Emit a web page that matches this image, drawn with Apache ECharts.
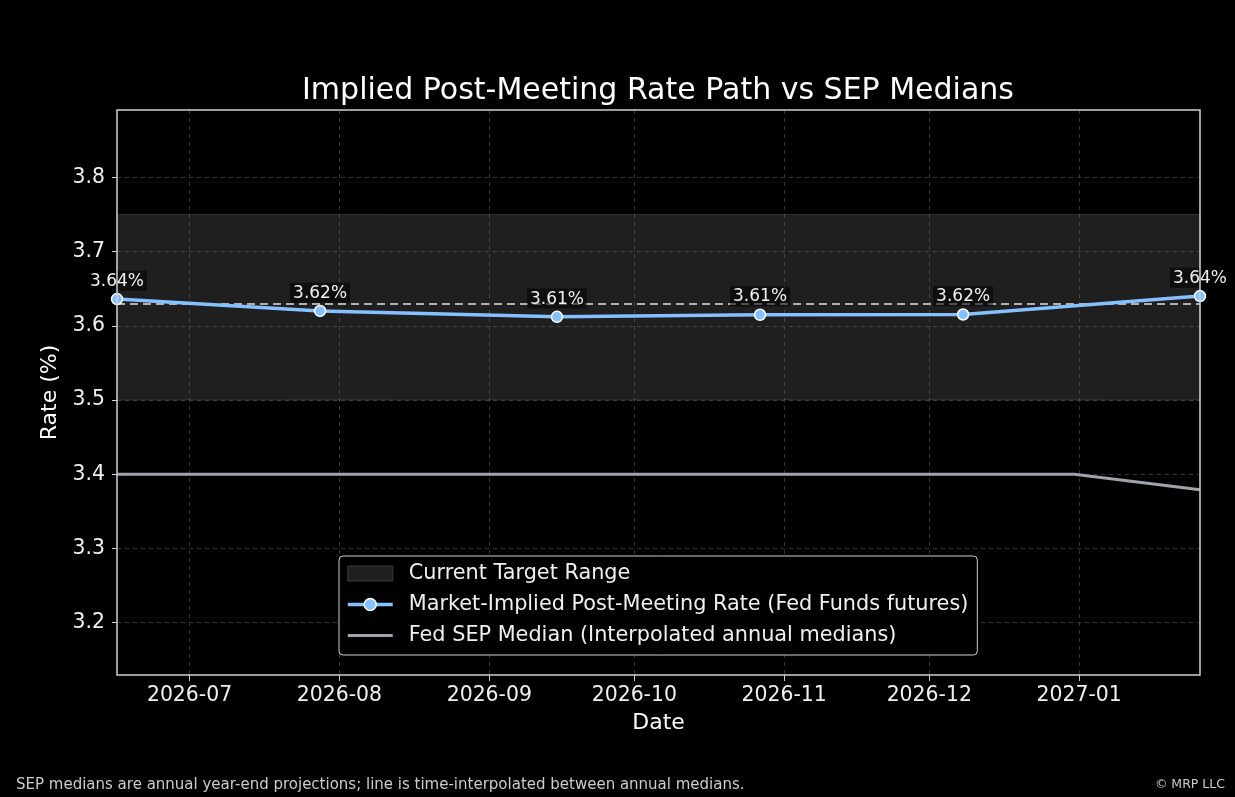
<!DOCTYPE html>
<html>
<head>
<meta charset="utf-8">
<script src="https://cdn.jsdelivr.net/npm/echarts@6/dist/echarts.min.js"></script>
<style>
html,body{margin:0;padding:0;background:#000;}
#c{width:1235px;height:797px;}
</style>
</head>
<body>
<div id="c"></div>
<script>
// ---- data ----
const meetingDates = ['2026-06-16','2026-07-28','2026-09-15','2026-10-27','2026-12-08','2027-01-26'];
const impliedRates = [3.636, 3.620, 3.612, 3.6148, 3.6152, 3.640];
const sepDates = ['2026-06-16','2026-12-31','2027-01-26'];
const sepValues = [3.40, 3.40, 3.379];
const targetRange = [3.50, 3.75];
const targetMid = 3.625;
const yTicks = [3.2, 3.3, 3.4, 3.5, 3.6, 3.7, 3.8];
const seriesNames = ['Current Target Range','Market-Implied Post-Meeting Rate (Fed Funds futures)','Fed SEP Median (Interpolated annual medians)'];
const titleText = 'Implied Post-Meeting Rate Path vs SEP Medians';
const footLeft = 'SEP medians are annual year-end projections; line is time-interpolated between annual medians.';
const footRight = '\u00a9 MRP LLC';

function ts(s){const p=s.split('-').map(Number);return new Date(p[0],p[1]-1,p[2]).getTime();}
const FONT = 'DejaVu Sans';

const chart = echarts.init(document.getElementById('c'), null, {renderer:'canvas'});
chart.setOption({
  backgroundColor:'#000',
  animation:false,
  grid:{left:117,right:35,top:110,bottom:122,show:false},
  graphic:[
    {type:'text',x:658,y:91,style:{text:titleText,fill:'#ffffff',font:'30px "DejaVu Sans"',align:'center',verticalAlign:'middle'}},
    {type:'text',x:16,y:785,style:{text:footLeft,fill:'#cccccc',font:'15px "DejaVu Sans"',align:'left',verticalAlign:'middle'}},
    {type:'text',x:1225,y:785,style:{text:footRight,fill:'#cccccc',font:'12.5px "DejaVu Sans"',align:'right',verticalAlign:'middle'}},
    {type:'rect',z:100,silent:true,shape:{x:117,y:110,width:1083,height:565},style:{fill:'none',stroke:'#d0d0d0',lineWidth:1.5}}
  ],
  legend:{
    orient:'vertical',left:339,top:556,
    backgroundColor:'#000',borderColor:'#cfcfcf',borderWidth:1,borderRadius:4,
    padding:[7,9,9,7],itemWidth:45,itemHeight:15,itemGap:10,
    textStyle:{color:'#f0f0f0',fontFamily:FONT,fontSize:20.8,lineHeight:20,padding:[0,0,0,11]},
    data:[
      {name:seriesNames[0],icon:'rect',itemStyle:{color:'#202020',borderColor:'#3a3a3a',borderWidth:1}},
      {name:seriesNames[1],lineStyle:{width:3.5,color:'#86c1ff'},itemStyle:{color:'#86c1ff',borderColor:'#ffffff',borderWidth:1.5}},
      {name:seriesNames[2],lineStyle:{width:3,color:'#9ea3ad'},itemStyle:{opacity:0}}
    ]
  },
  xAxis:{
    type:'time',min:ts(meetingDates[0]),max:ts(meetingDates[meetingDates.length-1]),
    splitNumber:7,
    name:'Date',nameLocation:'middle',nameGap:37,
    nameTextStyle:{color:'#ffffff',fontFamily:FONT,fontSize:22},
    axisLine:{show:false},
    axisTick:{show:true,inside:false,length:6,lineStyle:{color:'#d0d0d0',width:1}},
    axisLabel:{color:'#f0f0f0',fontFamily:FONT,fontSize:20.4,margin:11,formatter:'{yyyy}-{MM}',showMinLabel:false,showMaxLabel:false,hideOverlap:false},
    splitLine:{show:true,showMinLine:false,showMaxLine:false,lineStyle:{color:'#333333',type:[4,4],width:1}},
    minorTick:{show:false}
  },
  yAxis:{
    type:'value',min:3.1295,max:3.8907,minInterval:0.1,maxInterval:0.1,splitNumber:8,
    name:'Rate (%)',nameLocation:'middle',nameGap:54,nameRotate:90,
    nameTextStyle:{color:'#ffffff',fontFamily:FONT,fontSize:22},
    axisLine:{show:false},
    axisTick:{show:true,length:5,lineStyle:{color:'#d0d0d0',width:1}},
    axisLabel:{color:'#f0f0f0',fontFamily:FONT,fontSize:20.4,margin:12,showMinLabel:false,showMaxLabel:false,
      formatter:function(v){const r=Math.round(v*10)/10;return yTicks.indexOf(r)>=0&&Math.abs(v-r)<1e-6?r.toFixed(1):'';}},
    splitLine:{show:true,showMinLine:false,showMaxLine:false,lineStyle:{color:'#333333',type:[4,4],width:1}}
  },
  series:[
    {
      name:seriesNames[0],type:'line',data:[],symbol:'none',
      itemStyle:{color:'#202020'},
      markArea:{silent:true,itemStyle:{color:'rgba(140,140,140,0.22)',borderColor:'rgba(160,160,160,0.25)',borderWidth:1},
        data:[[{yAxis:targetRange[0]},{yAxis:targetRange[1]}]]},
      markLine:{silent:true,symbol:'none',label:{show:false},
        lineStyle:{color:'#b0b0b0',type:[8,5],width:2},
        data:[{yAxis:targetMid}]},
      z:1
    },
    {
      name:seriesNames[2],type:'line',symbol:'none',
      data:sepDates.map((d,i)=>[ts(d),sepValues[i]]),
      lineStyle:{color:'#9ea3ad',width:3},itemStyle:{color:'#9ea3ad'},z:2
    },
    {
      name:seriesNames[1],type:'line',clip:false,
      data:meetingDates.map((d,i)=>[ts(d),impliedRates[i]]),
      symbol:'circle',symbolSize:11,
      lineStyle:{color:'#86c1ff',width:3.5},
      itemStyle:{color:'#86c1ff',borderColor:'#ffffff',borderWidth:1.5},
      label:{show:true,position:'top',distance:2,color:'#f0f0f0',fontFamily:FONT,fontSize:17,
        backgroundColor:'rgba(0,0,0,0.55)',padding:[2,3,1,3],
        formatter:function(p){return p.value[1].toFixed(2)+'%';}},
      z:5
    }
  ]
});
</script>
</body>
</html>
